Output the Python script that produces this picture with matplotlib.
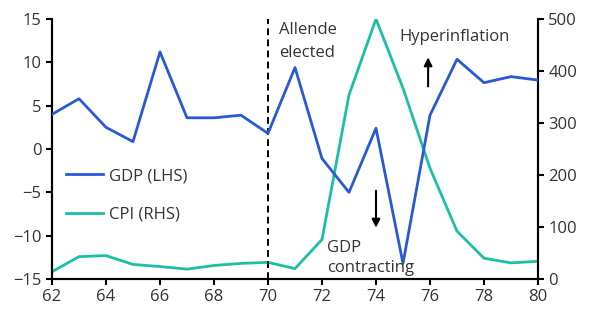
import matplotlib.pyplot as plt
import numpy as np

plt.rcParams['font.family'] = ['Open Sans', 'DejaVu Sans']
plt.rcParams['font.size'] = 12

years = np.arange(62, 81)
gdp = [4.0, 5.8, 2.5, 0.85, 11.2, 3.6, 3.6, 3.9, 1.8, 9.4,
       -1.1, -5.0, 2.4, -13.2, 3.9, 10.35, 7.65, 8.35, 7.95]
cpi = [14, 43, 45, 28, 24, 19, 26, 30, 32, 20,
       76, 354, 500, 367, 213, 92, 40, 31, 34]

blue = '#2a59d6'
teal = '#1cbfa6'
txt = '#333333'

fig = plt.figure(figsize=(5.93, 3.10), dpi=100)
ax = fig.add_axes([52 / 593, 1 - 279 / 310, (538 - 52) / 593, (279 - 19) / 310])
ax2 = ax.twinx()

l1, = ax.plot(years, gdp, color=blue, lw=2, label='GDP (LHS)', zorder=3)
l2, = ax2.plot(years, cpi, color=teal, lw=2, label='CPI (RHS)')

ax.set_zorder(ax2.get_zorder() + 1)
ax.patch.set_visible(False)

ax.set_xlim(62, 80)
ax.set_ylim(-15, 15)
ax2.set_ylim(0, 500)
ax.set_xticks(np.arange(62, 81, 2))
ax.set_yticks(np.arange(-15, 16, 5))
ax2.set_yticks(np.arange(0, 501, 100))

for a in (ax, ax2):
    a.spines['top'].set_visible(False)
    for s in ('left', 'right', 'bottom'):
        a.spines[s].set_linewidth(1.5)
    a.tick_params(width=1.5, length=4, colors='black', labelcolor=txt, labelsize=12)

ax.axvline(70, color='black', ls='--', lw=1.4, dashes=(3.5, 2.2))

# annotations, one line each so the spacing matches
ax.text(70.4, 13.3, 'Allende', color=txt, va='baseline', ha='left')
ax.text(70.4, 10.6, 'elected', color=txt, va='baseline', ha='left')
ax.text(74.85, 12.5, 'Hyperinflation', color=txt, va='baseline', ha='left')
ax.text(72.2, -11.9, 'GDP', color=txt, va='baseline', ha='left')
ax.text(72.2, -14.2, 'contracting', color=txt, va='baseline', ha='left')

ax.annotate('', xy=(75.93, 10.9), xytext=(75.93, 6.9),
            arrowprops=dict(arrowstyle='-|>', color='black', lw=1.5, mutation_scale=12))
ax.annotate('', xy=(74.0, -9.4), xytext=(74.0, -4.5),
            arrowprops=dict(arrowstyle='-|>', color='black', lw=1.5, mutation_scale=12))

leg = ax.legend(handles=[l1, l2], loc='upper left', bbox_to_anchor=(0.029, 0.426),
                frameon=False, handlelength=2.2, handletextpad=0.4,
                borderaxespad=0, borderpad=0, labelspacing=1.35, labelcolor=txt)

fig.savefig('out.png', dpi=100)
